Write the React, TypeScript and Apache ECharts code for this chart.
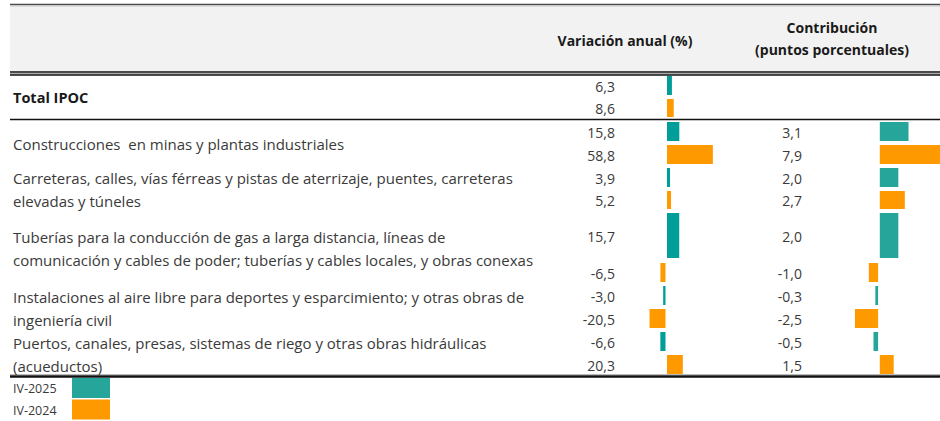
import React, { useEffect, useRef } from "react";
import * as echarts from "echarts";

// ---- data ----
const categories = [
  "Total IPOC",
  "Construcciones  en minas y plantas industriales",
  "Carreteras, calles, vías férreas y pistas de aterrizaje, puentes, carreteras\nelevadas y túneles",
  "Tuberías para la conducción de gas a larga distancia, líneas de\ncomunicación y cables de poder; tuberías y cables locales, y obras conexas",
  "Instalaciones al aire libre para deportes y esparcimiento; y otras obras de\ningeniería civil",
  "Puertos, canales, presas, sistemas de riego y otras obras hidráulicas\n(acueductos)",
];
const seriesNames = ["IV-2025", "IV-2024"];
const variation2025 = [6.3, 15.8, 3.9, 15.7, -3.0, -6.6];
const variation2024 = [8.6, 58.8, 5.2, -6.5, -20.5, 20.3];
const contribution2025: (number | null)[] = [null, 3.1, 2.0, 2.0, -0.3, -0.5];
const contribution2024: (number | null)[] = [null, 7.9, 2.7, -1.0, -2.5, 1.5];
const headerVariation = "Variación anual (%)";
const headerContribution = "Contribución\n(puntos porcentuales)";

// ---- layout (pixels) ----
const W = 940;
const H = 421;
// sub-row top/bottom for each category: [2025 row, 2024 row]
const rowTops = [74, 97, 120, 143, 166, 189, 211, 261, 284, 307, 330, 353];
const rowBottoms = [97, 119, 143, 166, 189, 211, 260, 284, 307, 330, 353, 376];
const FONT = "'Open Sans'";
const TXT = "#3a3a3a";
const C_VAR25 = "#009E98";
const C_CON25 = "#26A69A";
const C_24 = "#FF9900";

const fmt = (v: number) => v.toFixed(1).replace(".", ",");

function App() {
  const ref = useRef<HTMLDivElement>(null);
  useEffect(() => {
    if (!ref.current) return;
    const chart = echarts.init(ref.current, undefined, { renderer: "svg" });

    const makeData = (a25: (number | null)[], a24: (number | null)[]) => {
      const out: any[] = [];
      categories.forEach((_, i) => {
        if (a25[i] != null) out.push({ value: [a25[i], i * 2] });
        if (a24[i] != null) out.push({ value: [a24[i], i * 2 + 1] });
      });
      return out;
    };

    const makeRender =
      (labelX: number, color25: string, negShift: number) => (params: any, api: any) => {
        const v = api.value(0);
        const row = api.value(1);
        const top = rowTops[row] + 2;
        const bottom = rowBottoms[row] - 2;
        const p0 = api.coord([0, top]);
        const p1 = api.coord([v, bottom]);
        let x0 = p0[0];
        let x1 = p1[0];
        if (v < 0) {
          x0 += negShift;
          x1 += negShift;
        }
        const color = row % 2 === 0 ? color25 : C_24;
        const cy = (rowTops[row] + rowBottoms[row]) / 2 + 0.5;
        return {
          type: "group",
          children: [
            {
              type: "rect",
              shape: { x: Math.min(x0, x1), y: p0[1], width: Math.abs(x1 - x0), height: p1[1] - p0[1] },
              style: { fill: color },
            },
            {
              type: "text",
              x: labelX,
              y: api.coord([0, cy])[1],
              style: {
                text: fmt(v),
                align: "right",
                verticalAlign: "middle",
                fill: TXT,
                font: `14px ${FONT}`,
              },
            },
          ],
        };
      };

    const graphics: any[] = [];
    // header background and lines
    graphics.push({ type: "rect", shape: { x: 10, y: 5, width: W - 10, height: 67 }, style: { fill: "#F2F2F2" } });
    graphics.push({ type: "line", shape: { x1: 10, y1: 4.5, x2: W, y2: 4.5 }, style: { stroke: "#4a4a4a", lineWidth: 1.5 } });
    graphics.push({ type: "line", shape: { x1: 10, y1: 6, x2: W, y2: 6 }, style: { stroke: "#c8c8c8", lineWidth: 1 } });
    graphics.push({ type: "line", shape: { x1: 10, y1: 72, x2: W, y2: 72 }, style: { stroke: "#111", lineWidth: 1.5 } });
    graphics.push({ type: "line", shape: { x1: 10, y1: 73.8, x2: W, y2: 73.8 }, style: { stroke: "#888", lineWidth: 1 } });
    graphics.push({ type: "line", shape: { x1: 10, y1: 75, x2: W, y2: 75 }, style: { stroke: "#111", lineWidth: 1.5 } });
    graphics.push({ type: "line", shape: { x1: 10, y1: 119.5, x2: W, y2: 119.5 }, style: { stroke: "#111", lineWidth: 1.5 } });
    graphics.push({ type: "line", shape: { x1: 10, y1: 374.5, x2: W, y2: 374.5 }, style: { stroke: "#bbb", lineWidth: 1 } });
    graphics.push({ type: "line", shape: { x1: 10, y1: 376.5, x2: W, y2: 376.5 }, style: { stroke: "#111", lineWidth: 2.5 } });
    // headers
    graphics.push({
      type: "text", x: 625, y: 40,
      style: { text: headerVariation, align: "center", verticalAlign: "middle", font: `bold 14px ${FONT}`, fill: "#1a1a1a" },
    });
    graphics.push({
      type: "text", x: 832, y: 38,
      style: { text: headerContribution, align: "center", verticalAlign: "middle", lineHeight: 22, font: `bold 14px ${FONT}`, fill: "#1a1a1a" },
    });
    // category labels
    categories.forEach((c, i) => {
      const top = rowTops[i * 2];
      const bottom = rowBottoms[i * 2 + 1];
      graphics.push({
        type: "text", x: 13, y: (top + bottom) / 2 + 1,
        style: {
          text: c, align: "left", verticalAlign: "middle", lineHeight: 23,
          font: i === 0 ? `bold 14.5px ${FONT}` : `15px ${FONT}`, fill: i === 0 ? "#1a1a1a" : TXT,
        },
      });
    });
    // legend
    const legendColors = [C_CON25, C_24];
    seriesNames.forEach((n, i) => {
      graphics.push({ type: "text", x: 13, y: 388 + i * 22.5, style: { text: n, align: "left", verticalAlign: "middle", font: `12.5px ${FONT}`, fill: TXT } });
      graphics.push({ type: "rect", shape: { x: 72, y: 378 + i * 21.5, width: 38, height: 20 }, style: { fill: legendColors[i] } });
    });

    const yAxisBase = { type: "value", min: 0, max: H, inverse: true, show: false };
    chart.setOption({
      animation: false,
      grid: [
        { left: 620.2, width: 109.2, top: 0, height: H },
        { left: 833.5, width: 106.5, top: 0, height: H },
      ],
      xAxis: [
        { type: "value", min: -60, max: 80, gridIndex: 0, show: false },
        { type: "value", min: -5, max: 6.5, gridIndex: 1, show: false },
      ],
      yAxis: [
        { ...yAxisBase, gridIndex: 0 },
        { ...yAxisBase, gridIndex: 1 },
      ],
      graphic: graphics,
      series: [
        {
          type: "custom",
          name: "Variación anual",
          xAxisIndex: 0, yAxisIndex: 0,
          clip: false,
          renderItem: makeRender(615, C_VAR25, -1.5),
          data: makeData(variation2025, variation2024),
        },
        {
          type: "custom",
          name: "Contribución",
          xAxisIndex: 1, yAxisIndex: 1,
          clip: false,
          renderItem: makeRender(802, C_CON25, -1.7),
          data: makeData(contribution2025, contribution2024),
        },
      ],
    });
    return () => chart.dispose();
  }, []);
  return (
    <div
      ref={ref}
      style={{ position: "fixed", left: 0, top: 0, width: W, height: H, background: "#fff" }}
    />
  );
}

export default App;
